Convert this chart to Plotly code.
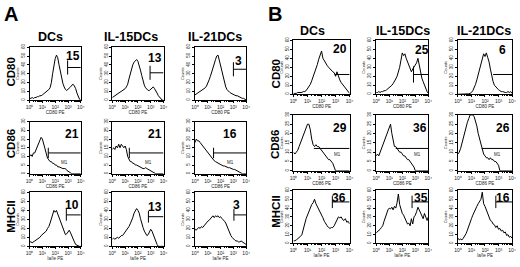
import plotly.graph_objects as go

# ---------------- data ----------------
BIN_EXP = [0.0, 0.1, 0.2, 0.3, 0.4, 0.5, 0.6, 0.7, 0.8, 0.9,
           1.0, 1.1, 1.2, 1.3, 1.4, 1.5, 1.6, 1.7, 1.8, 1.9,
           2.0, 2.1, 2.2, 2.3, 2.4, 2.5, 2.6, 2.7, 2.8, 2.9,
           3.0, 3.1, 3.2, 3.3, 3.4, 3.5, 3.6, 3.7, 3.8, 3.9, 4.0]

COLUMNS = ["DCs", "IL-15DCs", "IL-21DCs"]

A_CD80_DC = [2, 2, 3, 2, 3, 3, 4, 4, 5, 5, 6, 7, 8, 9, 11, 12, 14, 20, 30, 40,
             47, 51, 48, 40, 32, 25, 19, 15, 12, 11, 12, 14, 15, 17, 18, 16, 13, 8, 4, 1, 0]
A_CD80_IL15 = [3, 4, 5, 6, 7, 8, 8, 9, 10, 11, 13, 15, 18, 24, 30, 36, 40, 43, 45, 46,
               44, 40, 34, 28, 22, 17, 14, 12, 11, 11, 12, 14, 15, 13, 11, 8, 5, 3, 1, 0, 0]
A_CD80_IL21 = [6, 7, 8, 8, 9, 10, 11, 12, 14, 16, 19, 23, 27, 31, 36, 41, 46, 50, 51, 45,
               37, 30, 24, 19, 15, 12, 10, 9, 8, 7, 6, 6, 5, 5, 4, 4, 3, 2, 2, 1, 0]

A_CD86_DC = [10, 11, 10, 12, 12, 14, 15, 17, 20, 21, 20, 17, 14, 11, 9, 8, 7, 7, 6, 6,
             5, 5, 4, 4, 3.5, 3.5, 3, 3, 3, 2, 1.5, 0.5, 0, 0, 0, 0, 0, 0, 0, 0, 0]
A_CD86_IL15 = [14, 15, 14, 16, 15, 17, 15, 17, 16, 15, 16, 14, 10, 8, 7, 7, 6, 6, 5, 5,
               4.5, 4, 4, 3.5, 3, 3, 3.5, 3, 2.5, 2, 1.5, 1, 0.5, 0, 0, 0, 0, 0, 0, 0, 0]
A_CD86_IL21 = [18, 20, 19, 19, 18, 17, 16, 15, 14, 13, 12, 11, 10, 9, 8, 7.5, 7, 6.5, 6, 5.5,
               5, 5, 4.5, 4.5, 4, 4, 3.5, 3.5, 3, 3, 2.5, 2.5, 2, 2, 1.5, 1, 0.5, 0, 0, 0, 0]

A_MHCII_DC = [5, 5, 4, 5, 5, 6, 7, 8, 10, 12, 13, 14, 15, 17, 20, 22, 26, 30, 36, 40,
              38, 40, 36, 32, 27, 23, 19, 15, 13, 14, 16, 18, 15, 11, 8, 5, 2, 1, 0, 0, 0]
A_MHCII_IL15 = [8, 9, 8, 9, 10, 9, 11, 12, 12, 14, 15, 17, 19, 22, 25, 28, 32, 37, 40, 42,
                40, 37, 31, 25, 21, 17, 14, 12, 13, 16, 19, 17, 13, 8, 4, 2, 0, 0, 0, 0, 0]
A_MHCII_IL21 = [19, 18, 20, 21, 20, 22, 21, 23, 24, 26, 28, 29, 31, 32, 34, 32, 34, 33, 34, 32,
                33, 31, 30, 28, 26, 22, 18, 15, 12, 10, 8, 7, 6, 6, 5, 5, 6, 5, 4, 3, 2]

B_CD80_DC = [1, 1, 1, 2, 2, 2, 2, 3, 3, 4, 6, 8, 11, 15, 19, 24, 28, 33, 39, 44,
             48, 40, 37, 34, 32, 30, 28, 27, 25, 24, 20, 25, 19, 16, 13, 11, 8, 6, 4, 2, 1]
B_CD80_IL15 = [2, 2, 3, 2, 3, 3, 4, 4, 5, 6, 7, 8, 10, 12, 14, 17, 20, 24, 30, 38,
               46, 43, 45, 40, 36, 32, 28, 25, 28, 30, 33, 35, 40, 32, 24, 18, 14, 10, 6, 3, 1]
B_CD80_IL21 = [0, 0, 0, 0, 0, 0, 0, 0, 0.5, 1, 2, 4, 7, 11, 16, 22, 28, 34, 40, 45,
               42, 46, 41, 36, 28, 20, 14, 10, 8, 6, 5, 4, 3, 3, 2, 2, 2, 3, 2, 3, 1]

B_CD86_DC = [10, 9, 10, 11, 13, 15, 17, 19, 21, 24, 25, 25, 22, 17, 14, 13, 14, 13, 13, 12,
             11, 10, 9, 8, 7, 6, 6, 5, 4, 2, 0, 0, 0, 0, 0, 0, 0, 0, 0, 0, 0]
B_CD86_IL15 = [8, 9, 8, 10, 11, 13, 15, 17, 19, 22, 24, 25, 20, 16, 13, 13, 12, 11, 10, 10,
               9, 8, 8, 7, 6, 6, 5, 4, 3, 2, 0, 0, 0, 0, 0, 0, 0, 0, 0, 0, 0]
B_CD86_IL21 = [9, 10, 12, 15, 18, 21, 24, 26, 28, 30, 30, 30, 29, 27, 24, 20, 17, 14, 11, 9,
               8, 7, 7, 6, 7, 6, 6, 5, 5, 4, 3, 0, 0, 0, 0, 0, 0, 0, 0, 0, 0]

B_MHCII_DC = [3, 3, 4, 5, 6, 8, 10, 15, 22, 28, 32, 37, 40, 44, 46, 50, 45, 42, 38, 36,
              32, 29, 25, 22, 20, 18, 17, 18, 18, 20, 24, 28, 30, 29, 30, 27, 26, 28, 24, 25, 22]
B_MHCII_IL15 = [12, 13, 15, 16, 18, 20, 25, 30, 35, 38, 40, 39, 41, 38, 42, 40, 46, 56, 44, 38,
                34, 32, 28, 25, 22, 23, 20, 28, 22, 30, 32, 36, 41, 38, 34, 30, 28, 34, 30, 26, 30]
B_MHCII_IL21 = [6, 4, 5, 4, 6, 8, 11, 15, 20, 24, 28, 32, 36, 39, 42, 45, 47, 50, 58, 45,
                42, 38, 33, 30, 26, 25, 22, 21, 18, 20, 16, 17, 14, 15, 12, 13, 9, 10, 7, 8, 6]

# gate: start (log10 fluorescence) and level (counts); percentages in gate
A_CD80_GATE_START = [2.97, 2.95, 3.0]
A_CD80_GATE_LEVEL = [37, 31, 35]
A_CD80_PCT = ["15", "13", "3"]
A_CD86_GATE_START = [1.46, 1.33, 1.45]
A_CD86_GATE_LEVEL = [12, 12, 12]
A_CD86_PCT = ["21", "21", "16"]
A_MHCII_GATE_START = [2.87, 2.82, 3.04]
A_MHCII_GATE_LEVEL = [35, 33, 35]
A_MHCII_PCT = ["10", "13", "3"]
B_CD80_GATE_START = [2.95, 2.86, 2.6]
B_CD80_GATE_LEVEL = [22, 22, 22]
B_CD80_PCT = ["20", "25", "6"]
B_CD86_GATE_START = [1.45, 1.5, 1.76]
B_CD86_GATE_LEVEL = [12, 12, 12]
B_CD86_PCT = ["29", "36", "26"]
B_MHCII_GATE_START = [2.77, 2.75, 2.8]
B_MHCII_GATE_LEVEL = [47, 47, 47]
B_MHCII_PCT = ["36", "35", "16"]

X_TICK_VALUES = [1, 10, 100, 1000, 10000]
X_TICK_TEXT = ["10\u2070", "10\u00b9", "10\u00b2", "10\u00b3", "10\u2074"]

GROUPS = [
    ("A", 0, "CD80", [A_CD80_DC, A_CD80_IL15, A_CD80_IL21], 60, 10, "CD80 PE",
     A_CD80_PCT, A_CD80_GATE_START, A_CD80_GATE_LEVEL, False),
    ("A", 1, "CD86", [A_CD86_DC, A_CD86_IL15, A_CD86_IL21], 30, 5, "CD86 PE",
     A_CD86_PCT, A_CD86_GATE_START, A_CD86_GATE_LEVEL, True),
    ("A", 2, "MHCII", [A_MHCII_DC, A_MHCII_IL15, A_MHCII_IL21], 60, 10, "Ia/Ie PE",
     A_MHCII_PCT, A_MHCII_GATE_START, A_MHCII_GATE_LEVEL, False),
    ("B", 0, "CD80", [B_CD80_DC, B_CD80_IL15, B_CD80_IL21], 60, 10, "CD80 PE",
     B_CD80_PCT, B_CD80_GATE_START, B_CD80_GATE_LEVEL, False),
    ("B", 1, "CD86", [B_CD86_DC, B_CD86_IL15, B_CD86_IL21], 30, 5, "CD86 PE",
     B_CD86_PCT, B_CD86_GATE_START, B_CD86_GATE_LEVEL, True),
    ("B", 2, "MHCII", [B_MHCII_DC, B_MHCII_IL15, B_MHCII_IL21], 60, 10, "Ia/Ie PE",
     B_MHCII_PCT, B_MHCII_GATE_START, B_MHCII_GATE_LEVEL, False),
]

# ---------------- layout (pixels) ----------------
W, H = 520, 267
COL_PX = {"A": [(26, 78), (110, 162), (194, 246)], "B": [(294, 351), (378, 431), (461, 516)]}
ROW_PX = {"A": [(44, 98), (120, 173), (192, 247)], "B": [(37, 92), (113, 170), (190, 244)]}
GATE_TICK = [[8, 8, 8], [3, 3, 3], [6.5, 6.5, 6.5], [0, 9, 0], [0, 0, 0], [7, 7, 7]]
NUM_POS = [
    [(0.85, 0.83), (0.84, 0.80), (0.84, 0.74)],
    [(0.82, 0.77), (0.84, 0.77), (0.68, 0.77)],
    [(0.83, 0.76), (0.84, 0.73), (0.82, 0.76)],
    [(0.83, 0.84), (0.87, 0.82), (0.83, 0.82)],
    [(0.83, 0.77), (0.84, 0.77), (0.83, 0.77)],
    [(0.81, 0.85), (0.86, 0.85), (0.83, 0.85)],
]
M1_POS = {1: [(0.69, 0.21), (0.71, 0.21), (0.70, 0.21)],
          4: [(0.78, 0.29), (0.79, 0.29), (0.73, 0.29)]}
ROW_LABEL_PX = {"A": (7, [69, 142, 216]), "B": (276, [71, 143, 211])}
TITLE_PX = {"A": ([47, 129, 214], 34), "B": ([313, 405, 488], 28)}
LETTER_PX = {"A": (7, 10), "B": (275, 10)}

FONT = "Liberation Sans, Arial, Helvetica, sans-serif"
BOLD = "Liberation Sans, Arial, Helvetica, sans-serif"

minor_vals = [m * 10 ** d for d in range(4) for m in range(2, 10)]

fig = go.Figure()
layout = dict(width=W, height=H, margin=dict(l=0, r=0, t=0, b=0),
              paper_bgcolor="white", plot_bgcolor="white", showlegend=False)
annotations = []

xs = [10 ** e for e in BIN_EXP]
k = 0
for gi, (panel, row, marker, series, ymax, dtick, xtitle, pct, gstart, glevel, m1) in enumerate(GROUPS):
    for ci in range(3):
        k += 1
        xa = "x" if k == 1 else f"x{k}"
        ya = "y" if k == 1 else f"y{k}"
        xname = "xaxis" if k == 1 else f"xaxis{k}"
        yname = "yaxis" if k == 1 else f"yaxis{k}"
        x0, x1 = COL_PX[panel][ci]
        y0, y1 = ROW_PX[panel][row]
        layout[xname] = dict(
            type="log", range=[0, 4], domain=[x0 / W, x1 / W], anchor=ya,
            showline=True, mirror=True, linecolor="black", linewidth=1,
            ticks="outside", ticklen=2, tickwidth=0.7, tickcolor="black",
            tickvals=X_TICK_VALUES, ticktext=X_TICK_TEXT,
            tickfont=dict(size=5, family=FONT, color="#222"),
            minor=dict(ticks="outside", ticklen=1, tickwidth=0.5, tickcolor="black", tickvals=minor_vals),
            showgrid=False, zeroline=False, fixedrange=True,
            title=dict(text=xtitle, font=dict(size=4.5, family=FONT, color="#222"), standoff=1),
        )
        layout[yname] = dict(
            range=[0, ymax], domain=[1 - y1 / H, 1 - y0 / H], anchor=xa,
            showline=True, mirror=True, linecolor="black", linewidth=1,
            ticks="outside", ticklen=2, tickwidth=0.7, tickcolor="black",
            dtick=dtick, tick0=0, tickangle=-90,
            tickfont=dict(size=4.5, family=FONT, color="#222"),
            showgrid=False, zeroline=False, fixedrange=True,
            title=dict(text="Counts", font=dict(size=4, family=FONT, color="#222"), standoff=1),
        )
        fig.add_trace(go.Scatter(x=xs, y=series[ci], mode="lines",
                                 line=dict(color="black", width=1), xaxis=xa, yaxis=ya,
                                 hoverinfo="skip"))
        s = 10 ** gstart[ci]
        lv = glevel[ci]
        t = GATE_TICK[gi][ci]
        if t > 0:
            gx = [s, s, None, s, 10000]
            gy = [lv + t, lv - t, None, lv, lv]
        else:
            gx = [s, 10000]
            gy = [lv, lv]
        fig.add_trace(go.Scatter(x=gx, y=gy, mode="lines", line=dict(color="black", width=1),
                                 xaxis=xa, yaxis=ya, hoverinfo="skip"))
        nx, ny = NUM_POS[gi][ci]
        annotations.append(dict(text=f"<b>{pct[ci]}</b>", xref=f"{xa} domain", yref=f"{ya} domain",
                                x=nx, y=ny, xanchor="center", yanchor="middle", showarrow=False,
                                font=dict(size=12, family=BOLD, color="black")))
        if m1:
            mx, my = M1_POS[gi][ci]
            annotations.append(dict(text="M1", xref=f"{xa} domain", yref=f"{ya} domain",
                                    x=mx, y=my, xanchor="center", yanchor="middle", showarrow=False,
                                    font=dict(size=4.5, family=FONT, color="#222")))
    # row label
    lx, lys = ROW_LABEL_PX[panel]
    annotations.append(dict(text=f"<b>{marker}</b>", xref="paper", yref="paper",
                            x=lx / W, y=1 - lys[row] / H, xanchor="center", yanchor="middle",
                            textangle=-90, showarrow=False,
                            font=dict(size=11.5, family=BOLD, color="black")))

for panel in ("A", "B"):
    txs, ty = TITLE_PX[panel]
    for ci, name in enumerate(COLUMNS):
        annotations.append(dict(text=f"<b>{name}</b>", xref="paper", yref="paper",
                                x=txs[ci] / W, y=1 - ty / H, xanchor="center", yanchor="middle",
                                showarrow=False, font=dict(size=12.5, family=BOLD, color="black")))
    lx, ly = LETTER_PX[panel]
    annotations.append(dict(text=f"<b>{panel}</b>", xref="paper", yref="paper",
                            x=lx / W, y=1 - ly / H, xanchor="center", yanchor="middle",
                            showarrow=False, font=dict(size=20, family=BOLD, color="black")))

layout["annotations"] = annotations
fig.update_layout(**layout)
fig.write_html("out.html", config={"displayModeBar": False},
               post_script="document.body.style.margin='0';document.body.style.overflow='hidden';")
